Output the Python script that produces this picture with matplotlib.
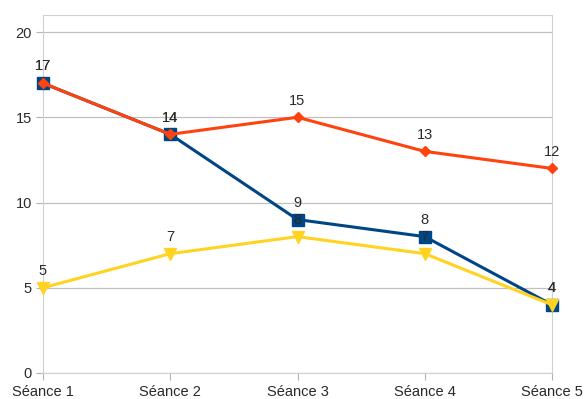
import matplotlib.pyplot as plt

seances = ["Séance 1", "Séance 2", "Séance 3", "Séance 4", "Séance 5"]
serie_bleue = [17, 14, 9, 8, 4]
serie_orange = [17, 14, 15, 13, 12]
serie_jaune = [5, 7, 8, 7, 4]

plt.rcParams["font.family"] = ["Liberation Sans", "DejaVu Sans"]

x = range(len(seances))

fig = plt.figure(figsize=(5.86, 3.99), dpi=100)
ax = fig.add_axes([43 / 586, 1 - 373 / 399, (552 - 43) / 586, (373 - 15) / 399])

# courbes : bleu, orange puis jaune par-dessus
styles = [
    (serie_bleue, "#004586", "s", 8),
    (serie_orange, "#ff420e", "D", 5.5),
    (serie_jaune, "#ffd320", "v", 9),
]
for i, (vals, col, mk, ms) in enumerate(styles):
    ax.plot(x, vals, color=col, lw=2.2, marker=mk, ms=ms, zorder=3 + i,
            clip_on=False)
    for xi, v in zip(x, vals):
        ax.annotate(str(v), (xi, v), xytext=(0, 7), textcoords="offset points",
                    ha="center", va="bottom", fontsize=10.5, color="#2a2a2a",
                    zorder=10)

ax.set_xlim(0, 4)
ax.set_ylim(0, 21)
ax.set_yticks([0, 5, 10, 15, 20])
ax.set_xticks(list(x))
ax.set_xticklabels(seances)
ax.grid(axis="y", color="#c0c0c0", lw=0.9)
ax.set_axisbelow(True)
for s in ax.spines.values():
    s.set_color("#d0d0d0")
ax.tick_params(colors="#b3b3b3", labelcolor="#2a2a2a", labelsize=10.5,
               length=5, pad=3)
ax.tick_params(axis="x", pad=4)

fig.savefig("out.png", dpi=100)
